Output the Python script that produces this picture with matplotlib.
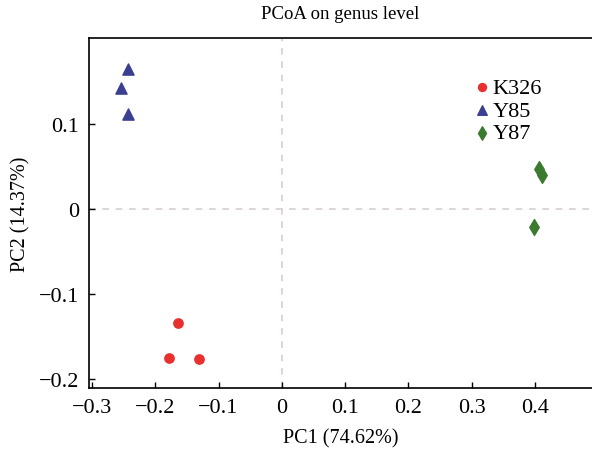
import matplotlib
matplotlib.use('Agg')
import matplotlib.pyplot as plt

plt.rcParams['font.family'] = ['Liberation Serif', 'DejaVu Serif']

# PCoA scores
k326_x = [-0.164, -0.178, -0.131]
k326_y = [-0.134, -0.175, -0.176]
y85_x = [-0.243, -0.254, -0.243]
y85_y = [0.165, 0.142, 0.111]
y87_x = [0.406, 0.411, 0.398]
y87_y = [0.047, 0.040, -0.021]

xticks = [-0.3, -0.2, -0.1, 0, 0.1, 0.2, 0.3, 0.4]
yticks = [-0.2, -0.1, 0, 0.1]

fig = plt.figure(figsize=(5.92, 4.52), dpi=100)
ax = fig.add_axes([0.150, 0.139, 0.85, 0.775])

ax.axhline(0, color='#d8d0d0', linestyle='--', linewidth=1.2, dashes=(4, 4), zorder=1)
ax.axvline(0, color='#d8d0d0', linestyle='--', linewidth=1.2, dashes=(4, 4), zorder=1)

ax.scatter(k326_x, k326_y, marker='o', s=45, color='#e8302e', label='K326', zorder=3)
ax.scatter(y85_x, y85_y, marker='^', s=65, color='#3a3f8f', label='Y85', zorder=3)
ax.scatter(y87_x, y87_y, marker='d', s=65, color='#3c7a30', label='Y87', zorder=3)

ax.set_xlim(-0.305, 0.49)
ax.set_ylim(-0.2106, 0.201)
ax.set_xticks(xticks)
ax.set_xticklabels(['\u22120.3', '\u22120.2', '\u22120.1', '0', '0.1', '0.2', '0.3', '0.4'])
ax.set_yticks(yticks)
ax.set_yticklabels(['\u22120.2', '\u22120.1', '0', '0.1'])
ax.tick_params(direction='in', length=4, width=1, labelsize=16)
ax.tick_params(axis='y', pad=7)
ax.tick_params(axis='x', pad=7)

ax.spines['right'].set_visible(False)
for s in ['left', 'bottom', 'top']:
    ax.spines[s].set_linewidth(1.2)

ax.set_xlabel('PC1 (74.62%)', fontsize=14.5, labelpad=8)
ax.set_ylabel('PC2 (14.37%)', fontsize=14.5, labelpad=6)
ax.set_title('PCoA on genus level', fontsize=13.5, pad=14)

ax.legend(loc='upper left', bbox_to_anchor=(0.741, 0.919), frameon=False, fontsize=16,
          handletextpad=0.1, labelspacing=0.1, borderpad=0, handlelength=0.8,
          markerscale=0.85)

fig.savefig('out.png', dpi=100)
